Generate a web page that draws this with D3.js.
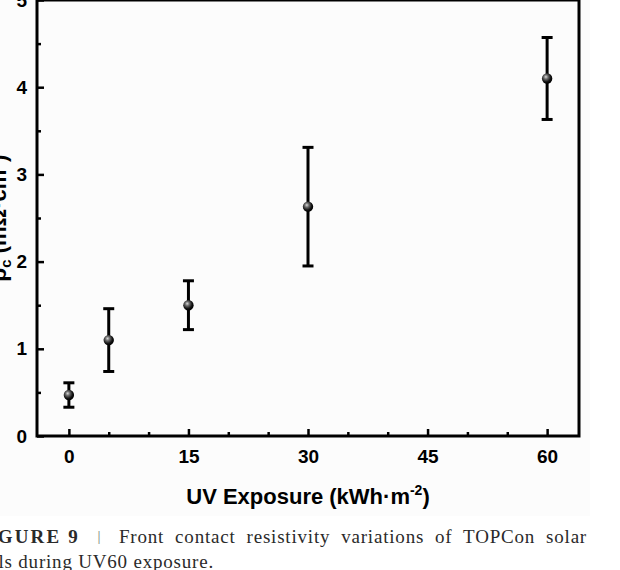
<!DOCTYPE html>
<html>
<head>
<meta charset="utf-8">
<script src="https://cdn.jsdelivr.net/npm/d3@7"></script>
<style>
  html, body { margin: 0; padding: 0; background: #ffffff; }
  svg { display: block; }
</style>
</head>
<body>
<div id="chart"></div>
<script>
// ---- data ----
const uvExposure = [0, 5, 15, 30, 60];
const contactResistivity = [0.47, 1.10, 1.50, 2.63, 4.10];
const errorValues = [0.14, 0.36, 0.28, 0.68, 0.47];
const xTickValues = [0, 15, 30, 45, 60];
const yTickValues = [0, 1, 2, 3, 4, 5];
const xLabel = "UV Exposure (kWh·m";
const captionLead = "FIGURE 9";
const captionLine1 = "Front contact resistivity variations of TOPCon solar";
const captionLine2 = "cells during UV60 exposure.";

const W = 620, H = 570;
const svg = d3.select("#chart").append("svg").attr("width", W).attr("height", H);

const defs = svg.append("defs");
const grad = defs.append("radialGradient").attr("id", "sphere")
  .attr("cx", "40%").attr("cy", "38%").attr("r", "60%").attr("fx", "38%").attr("fy", "34%");
grad.append("stop").attr("offset", "0%").attr("stop-color", "#d8d8d8");
grad.append("stop").attr("offset", "35%").attr("stop-color", "#6a6a6a");
grad.append("stop").attr("offset", "75%").attr("stop-color", "#141414");
grad.append("stop").attr("offset", "100%").attr("stop-color", "#000000");

svg.append("rect").attr("x", 0).attr("y", 0).attr("width", 590).attr("height", 516).attr("fill", "#fcfcfc");

const x = d3.scaleLinear().domain([-4, 64]).range([37, 579]);
const y = d3.scaleLinear().domain([0, 5]).range([436, 0]);

const font = "'Liberation Sans', Arial, sans-serif";

const xMinor = d3.range(0, 61, 5).filter(v => !xTickValues.includes(v));
const yMinor = d3.range(0.5, 5, 1);

svg.append("g").attr("transform", `translate(0,${y(0)})`)
  .call(d3.axisBottom(x).tickValues(xMinor).tickSize(-4).tickFormat(""))
  .call(g => g.select(".domain").remove())
  .call(g => g.selectAll("line").attr("stroke", "#000").attr("stroke-width", 2.5));

svg.append("g").attr("transform", `translate(${x(-4)},0)`)
  .call(d3.axisLeft(y).tickValues(yMinor).tickSize(-4).tickFormat(""))
  .call(g => g.select(".domain").remove())
  .call(g => g.selectAll("line").attr("stroke", "#000").attr("stroke-width", 2.5));

svg.append("g").attr("transform", `translate(0,${y(0)})`)
  .call(d3.axisBottom(x).tickValues(xTickValues).tickFormat(d3.format("d"))
    .tickSizeInner(-7).tickSizeOuter(0).tickPadding(14))
  .call(g => g.select(".domain").remove())
  .call(g => g.selectAll("line").attr("stroke", "#000").attr("stroke-width", 2.5))
  .call(g => g.selectAll("text").attr("fill", "#000").attr("font-family", font)
      .attr("font-weight", "bold").attr("font-size", 19));

svg.append("g").attr("transform", `translate(${x(-4)},0)`)
  .call(d3.axisLeft(y).tickValues(yTickValues).tickFormat(d3.format("d"))
    .tickSizeInner(-7).tickSizeOuter(0).tickPadding(10))
  .call(g => g.select(".domain").remove())
  .call(g => g.selectAll("line").attr("stroke", "#000").attr("stroke-width", 2.5))
  .call(g => g.selectAll("text").attr("fill", "#000").attr("font-family", font)
      .attr("font-weight", "bold").attr("font-size", 19));

svg.append("rect")
  .attr("x", x(-4)).attr("y", y(5))
  .attr("width", x(64) - x(-4)).attr("height", y(0) - y(5))
  .attr("fill", "none").attr("stroke", "#000").attr("stroke-width", 3);

const data = uvExposure.map((v, i) => ({ x: v, y: contactResistivity[i], e: errorValues[i] }));
const eb = svg.append("g").attr("stroke", "#000").attr("stroke-width", 3);
data.forEach(d => {
  eb.append("line").attr("x1", x(d.x)).attr("x2", x(d.x))
    .attr("y1", y(d.y + d.e)).attr("y2", y(d.y - d.e));
  [d.y + d.e, d.y - d.e].forEach(v => {
    eb.append("line").attr("x1", x(d.x) - 5.5).attr("x2", x(d.x) + 5.5)
      .attr("y1", y(v)).attr("y2", y(v));
  });
});

svg.append("g").selectAll("circle").data(data).join("circle")
  .attr("cx", d => x(d.x)).attr("cy", d => y(d.y)).attr("r", 5.2)
  .attr("fill", "url(#sphere)");

const xt = svg.append("text").attr("x", 308).attr("y", 504)
  .attr("text-anchor", "middle").attr("font-family", font).attr("font-weight", "bold")
  .attr("font-size", 22).attr("fill", "#000");
xt.append("tspan").text(xLabel);
xt.append("tspan").attr("dy", -9).attr("font-size", 14).text("-2");
xt.append("tspan").attr("dy", 9).text(")");

const yt = svg.append("text")
  .attr("transform", `translate(6,${(y(0) + y(5)) / 2}) rotate(-90)`)
  .attr("text-anchor", "middle").attr("font-family", font).attr("font-weight", "bold")
  .attr("font-size", 22).attr("fill", "#000");
yt.append("tspan").text("ρ");
yt.append("tspan").attr("dy", 5).attr("font-size", 15).text("c");
yt.append("tspan").attr("dy", -5).text(" (mΩ·cm");
yt.append("tspan").attr("dy", -9).attr("font-size", 14).text("2");
yt.append("tspan").attr("dy", 9).text(")");

const serif = "'Liberation Serif', 'DejaVu Serif', serif";
svg.append("text").attr("x", 80).attr("y", 543).attr("text-anchor", "end")
  .attr("font-family", serif).attr("font-weight", "bold").attr("font-size", 19)
  .attr("letter-spacing", 2.2).attr("fill", "#2a2a2a").text(captionLead);
svg.append("text").attr("x", 99).attr("y", 541).attr("text-anchor", "middle")
  .attr("font-family", serif).attr("font-size", 15).attr("fill", "#777").text("|");
const c1 = svg.append("text").attr("x", 119).attr("y", 543)
  .attr("font-family", serif).attr("font-size", 19).attr("letter-spacing", 0.8)
  .attr("fill", "#2a2a2a").text(captionLine1);
const len1 = c1.node().getComputedTextLength();
const spaces1 = captionLine1.split(" ").length - 1;
c1.attr("word-spacing", Math.max(0, (587 - 119 - len1) / spaces1));
svg.append("text").attr("x", 214).attr("y", 568).attr("text-anchor", "end")
  .attr("font-family", serif).attr("font-size", 19).attr("letter-spacing", 0.8)
  .attr("fill", "#2a2a2a").text(captionLine2);
</script>
</body>
</html>
